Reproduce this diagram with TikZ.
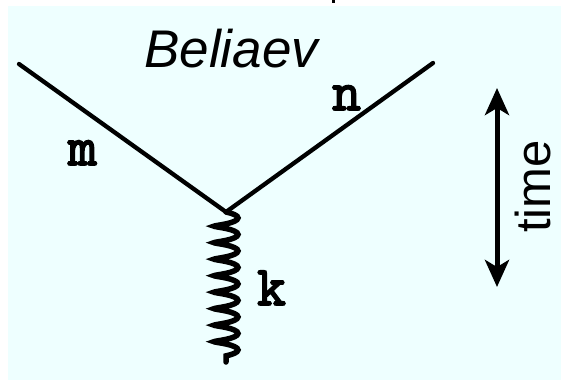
\documentclass[tikz,border=0pt]{standalone}
\usepackage{fontspec}
\newfontfamily\helv{Liberation Sans}
\newfontfamily\courb[FakeBold=3]{Latin Modern Mono}
\usetikzlibrary{arrows.meta,decorations.pathmorphing}
\definecolor{bgcyan}{RGB}{238,255,255}
\tikzset{
  prop/.style={line width=4.3pt,line cap=round},
  spring/.style={line width=5.5pt,line cap=round,decorate,decoration={coil,aspect=0.15,amplitude=12pt,segment length=16.5pt,pre length=0pt,post length=0pt}},
  momlabel/.style={font=\courb\fontsize{56}{60}\selectfont,inner sep=0pt,anchor=base},
  title/.style={font=\helv\itshape\fontsize{53}{60}\selectfont,inner sep=0pt,anchor=base west},
  timelabel/.style={font=\helv\fontsize{49}{60}\selectfont,inner sep=0pt,anchor=base west,rotate=90},
  timearrow/.style={line width=5pt,{Stealth[length=27pt,width=24pt,inset=7pt]}-{Stealth[length=27pt,width=24pt,inset=7pt]}}
}
\begin{document}
\begin{tikzpicture}[x=1pt,y=-1pt]
\useasboundingbox (0,0) rectangle (561,380);
\fill[white] (0,0) rectangle (561,380);
\fill[bgcyan] (8,6) rectangle (561,380);
\fill[black] (332,0) rectangle (335,3);
% vertex and ends
\coordinate (v) at (226,212);
\coordinate (a) at (19,64);
\coordinate (b) at (433,63);
\coordinate (s) at (226,362);
\draw[prop] (a) -- (v);
\draw[prop] (b) -- (v);
\draw[spring] (v) -- (s);
% labels
\node[title] (title) at (144,67) {Beliaev};
\node[momlabel] (m) at (82.5,165) {m};
\node[momlabel] (n) at (346.5,110) {n};
\node[momlabel] (k) at (271.5,305) {k};
% time arrow
\coordinate (tt) at (497,88);
\coordinate (tb) at (497,287);
\draw[timearrow] (tb) -- (tt);
\node[timelabel] (time) at (550,233) {time};
\end{tikzpicture}
\end{document}
